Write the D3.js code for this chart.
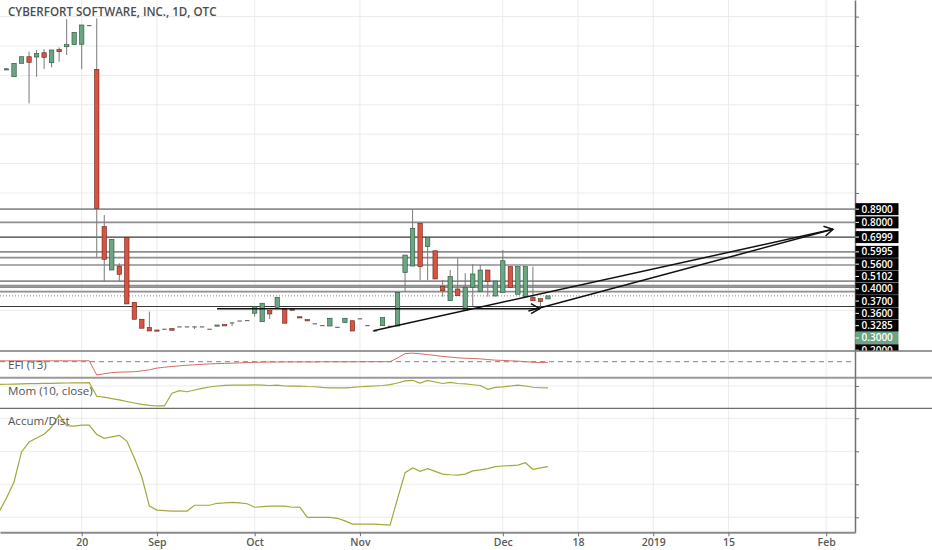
<!DOCTYPE html>
<html>
<head>
<meta charset="utf-8">
<script src="https://cdn.jsdelivr.net/npm/d3@7"></script>
<style>
  body { margin: 0; background: #fff; }
  svg { display: block; font-family: "Open Sans", sans-serif; }
</style>
</head>
<body>
<svg id="chart" width="932" height="550"></svg>
<script>
// bar index 0 .. 72, daily OTC bars
const candleOpen = [1.84,1.791,1.882,1.927,1.925,1.954,1.886,1.975,1.995,2.009,2.012,2.143,
  1.841,0.771,0.476,0.503,0.696,0.256,0.141,0.084,0.068,0.077,0.077,0.093,0.093,0.093,0.093,0.077,
  0.099,0.104,0.120,0.133,0.136,0.182,0.124,0.2,0.222,0.209,0.21,0.158,0.138,0.114,0.102,0.095,
  0.09,0.118,0.131,0.148,0.102,0.065,0.097,0.097,0.095,0.458,0.503,0.794,0.635,0.607,0.363,0.267,
  0.347,0.199,0.359,0.329,0.476,0.299,0.324,0.499,0.311,0.295,0.288,0.281,0.279];
const candleHigh = [1.85,1.882,1.927,1.961,1.973,1.978,1.973,1.991,2.182,2.093,2.143,2.143,
  2.188,0.850,0.685,0.522,0.696,0.256,0.141,0.193,0.068,0.077,0.077,0.093,0.093,0.093,0.093,0.077,
  0.102,0.104,0.120,0.133,0.136,0.227,0.25,0.2,0.29,0.209,0.21,0.158,0.138,0.114,0.102,0.148,
  0.09,0.148,0.131,0.148,0.102,0.065,0.152,0.097,0.324,0.578,0.889,0.794,0.699,0.607,0.408,0.476,
  0.556,0.454,0.515,0.51,0.476,0.401,0.612,0.499,0.499,0.499,0.499,0.281,0.30];
const candleLow = [1.84,1.791,1.882,1.61,1.791,1.844,1.855,1.893,1.939,2.009,1.844,2.143,
  0.562,0.397,0.476,0.397,0.245,0.141,0.080,0.061,0.066,0.077,0.066,0.093,0.093,0.075,0.093,0.077,
  0.099,0.101,0.095,0.133,0.136,0.159,0.124,0.143,0.222,0.114,0.207,0.155,0.135,0.114,0.102,0.095,
  0.09,0.118,0.061,0.148,0.102,0.065,0.097,0.097,0.095,0.329,0.503,0.408,0.408,0.415,0.295,0.267,
  0.301,0.199,0.231,0.329,0.295,0.299,0.324,0.358,0.311,0.295,0.267,0.216,0.279];
const candleClose = [1.845,1.882,1.927,1.889,1.948,1.923,1.973,1.961,2.009,2.093,2.143,2.143,
  0.896,0.549,0.685,0.447,0.245,0.141,0.080,0.061,0.066,0.077,0.066,0.093,0.093,0.093,0.093,0.077,
  0.102,0.101,0.120,0.133,0.136,0.227,0.25,0.177,0.29,0.114,0.207,0.155,0.135,0.114,0.102,0.148,
  0.09,0.148,0.061,0.148,0.102,0.065,0.152,0.097,0.324,0.578,0.760,0.499,0.699,0.415,0.335,0.431,
  0.301,0.359,0.449,0.476,0.397,0.401,0.539,0.358,0.499,0.499,0.267,0.261,0.30];

// indicators start one bar before the first visible candle (index -1)
const efiValues = [0.8,
  0.8,0.8,0.8,0.8,0.8,0.8,0.8,0.8,0.8,0.8,0.8,0.9,
  -12.5,-11.3,-10.2,-9.8,-9.6,-9.4,-8.6,-7.6,-6.0,-5.2,
  -4.5,-3.9,-3.3,-2.9,-2.5,-2.1,-1.8,-1.6,-1.4,-1.1,
  -0.8,-0.6,-0.4,-0.3,-0.3,-0.2,-0.2,-0.2,-0.2,-0.2,
  -0.1,-0.1,-0.1,-0.1,-0.1,-0.1,0,0,0,0,
  3.5,7.5,8.0,7.4,6.6,5.8,5.0,4.3,3.6,3.2,
  3.0,2.6,2.0,1.4,1.2,0.8,0.5,0.0,-0.5,-0.8,-0.6];
const momValues = [0.16,
  0.18,0.2,0.22,0.24,0.25,0.27,0.28,0.3,0.31,0.32,0.33,0.34,
  -1.06,-1.15,-1.31,-1.44,-1.6,-1.75,-1.89,-1.99,-2.06,-2.06,
  -0.75,-0.48,-0.59,-0.41,-0.24,-0.1,0,0.07,0.1,0.1,
  0.1,0.12,0.1,0.05,0.08,0,-0.02,0,-0.05,-0.08,
  -0.15,-0.2,-0.18,-0.2,-0.15,-0.08,-0.04,0,0.05,0.15,
  0.31,0.52,0.59,0.31,0.57,0.41,0.26,0.38,0.26,0.21,
  0.13,0.05,-0.34,-0.15,-0.1,0,0.1,0,-0.13,-0.18,-0.2];
const adValues = [0.32,
  1.17,2.14,3.96,4.56,4.81,5.03,5.47,6.2,5.56,5.53,5.59,5.59,
  5.02,4.79,4.87,4.97,4.62,3.59,2.44,0.68,0.44,0.41,
  0.38,0.38,0.38,0.73,0.73,0.73,0.85,0.87,0.91,0.87,
  0.82,0.61,0.65,0.68,0.68,0.68,0.61,0.62,0,0,
  0,-0.01,-0.06,-0.22,-0.41,-0.41,-0.41,-0.41,-0.44,-0.47,
  1.13,2.7,2.99,2.79,2.95,2.78,2.62,2.58,2.56,2.62,
  2.81,2.87,2.95,3.07,3.11,3.13,3.16,3.31,2.91,2.99,3.07];

// horizontal levels drawn on the chart
const levelPrices = [0.89, 0.80, 0.6999, 0.5995, 0.56, 0.5102, 0.40, 0.37, 0.36, 0.3285, 0.228];
const levelLabels = ["0.8900","0.8000","0.6999","0.5995","0.5600","0.5102","0.4000","0.3700","0.3600","0.3285","0.2000"];

// arrows: [bar1, price1, bar2, price2]
const arrowLines = [[28, 0.213, 70.9, 0.213], [48.8, 0.063, 109.9, 0.753], [69.4, 0.197, 109.9, 0.753]];

const xTickIdx = [10, 20, 33, 47, 66, 76, 86, 96, 109];
const xTickLabels = ["20", "Sep", "Oct", "Nov", "Dec", "18", "2019", "15", "Feb"];
const priceGrid = [0.2, 0.4, 0.6, 0.8, 1.0, 1.2, 1.4, 1.6, 1.8, 2.0, 2.2];
const momGrid = [0];
const adGrid = [0, 2, 4, 6];

const title = "CYBERFORT SOFTWARE, INC., 1D, OTC";

const svg = d3.select("#chart");
const W = 932, axisX = 855;
const pTop = 0, pBot = 351, efiBot = 377.7, momBot = 408.3, adBot = 532.3;

const x = d3.scaleLinear().domain([-0.864, 112.83]).range([0, axisX]);
const yPrice = d3.scaleLinear().domain([-0.075, 2.313]).range([pBot, pTop]);
const yEfi = d3.scaleLinear().domain([-15, 10]).range([efiBot, pBot]);
const yMom = d3.scaleLinear().domain([-2.3, 0.856]).range([momBot, efiBot]);
const yAd = d3.scaleLinear().domain([-0.909, 6.606]).range([adBot, momBot]);

const defs = svg.append("defs");
defs.append("clipPath").attr("id", "clip-price")
    .append("rect").attr("x", 0).attr("y", 0).attr("width", axisX).attr("height", pBot);
defs.append("clipPath").attr("id", "clip-all")
    .append("rect").attr("x", 0).attr("y", 0).attr("width", axisX).attr("height", adBot);

// grid
const grid = svg.append("g").attr("stroke", "#ebebeb").attr("stroke-width", 1);
grid.selectAll("line.v").data(xTickIdx).enter().append("line")
    .attr("x1", d => x(d)).attr("x2", d => x(d)).attr("y1", 0).attr("y2", adBot);
grid.selectAll("line.hp").data(priceGrid).enter().append("line")
    .attr("x1", 0).attr("x2", axisX).attr("y1", d => yPrice(d)).attr("y2", d => yPrice(d));
grid.selectAll("line.hm").data(momGrid).enter().append("line")
    .attr("x1", 0).attr("x2", axisX).attr("y1", d => yMom(d)).attr("y2", d => yMom(d));
grid.selectAll("line.ha").data(adGrid).enter().append("line")
    .attr("x1", 0).attr("x2", axisX).attr("y1", d => yAd(d)).attr("y2", d => yAd(d));

// price panel
const price = svg.append("g").attr("clip-path", "url(#clip-price)");
const darkLevels = new Set([0.6999, 0.228]);
price.selectAll("line.level").data(levelPrices).enter().append("line")
    .attr("x1", 0).attr("x2", axisX)
    .attr("y1", d => yPrice(d)).attr("y2", d => yPrice(d))
    .attr("stroke", d => darkLevels.has(d) ? "#3a3a3a" : "#8e8e8e")
    .attr("stroke-width", d => darkLevels.has(d) ? 1.1 : 1.7);

const lastClose = candleClose[candleClose.length - 1];
price.append("line")
    .attr("x1", 0).attr("x2", axisX)
    .attr("y1", yPrice(lastClose)).attr("y2", yPrice(lastClose))
    .attr("stroke", "#888").attr("stroke-width", 1).attr("stroke-dasharray", "1,2");

const candles = candleOpen.map((o, i) => ({
    i, o, h: candleHigh[i], l: candleLow[i], c: candleClose[i]
}));
const bodyW = 4.4;
price.selectAll("line.wick").data(candles.filter(d => d.h > d.l)).enter().append("line")
    .attr("x1", d => x(d.i)).attr("x2", d => x(d.i))
    .attr("y1", d => yPrice(d.h)).attr("y2", d => yPrice(d.l))
    .attr("stroke", "#7a7a7c").attr("stroke-width", 1);
price.selectAll("rect.body").data(candles).enter().append("rect")
    .attr("x", d => x(d.i) - bodyW / 2)
    .attr("width", bodyW)
    .attr("y", d => yPrice(Math.max(d.o, d.c)))
    .attr("height", d => Math.max(1.2, Math.abs(yPrice(d.o) - yPrice(d.c))))
    .attr("fill", d => d.c > d.o ? "#6ba583" : d.c < d.o ? "#d75442" : "#6d6d6d")
    .attr("stroke", d => d.c > d.o ? "#225437" : d.c < d.o ? "#6b2118" : "none")
    .attr("stroke-width", 0.6);

// arrows
const arrows = price.append("g").attr("stroke", "#111").attr("stroke-width", 1.5).attr("fill", "none");
arrowLines.forEach((a, k) => {
    const x1 = x(a[0]), y1 = yPrice(a[1]), x2 = x(a[2]), y2 = yPrice(a[3]);
    arrows.append("line").attr("x1", x1).attr("y1", y1).attr("x2", x2).attr("y2", y2);
    if (k < 2) {
        const ang = Math.atan2(y2 - y1, x2 - x1), len = 10, spread = Math.PI / 6;
        const b1 = [x2 - len * Math.cos(ang - spread), y2 - len * Math.sin(ang - spread)];
        const b2 = [x2 - len * Math.cos(ang + spread), y2 - len * Math.sin(ang + spread)];
        arrows.append("path").attr("d", `M${b1}L${x2},${y2}L${b2}`);
    }
});

// indicator panels
const efiLine = d3.line().x((d, i) => x(i - 1)).y(d => yEfi(d));
const momLine = d3.line().x((d, i) => x(i - 1)).y(d => yMom(d));
const adLine = d3.line().x((d, i) => x(i - 1)).y(d => yAd(d));
const ind = svg.append("g").attr("clip-path", "url(#clip-all)").attr("fill", "none");
ind.append("line")
    .attr("x1", 0).attr("x2", axisX).attr("y1", yEfi(0)).attr("y2", yEfi(0))
    .attr("stroke", "#9a9a9a").attr("stroke-width", 1.2).attr("stroke-dasharray", "5,4");
ind.append("path").attr("d", efiLine(efiValues)).attr("stroke", "#cf6e66").attr("stroke-width", 1);
ind.append("path").attr("d", momLine(momValues)).attr("stroke", "#a3a83c").attr("stroke-width", 1.2);
ind.append("path").attr("d", adLine(adValues)).attr("stroke", "#a3a83c").attr("stroke-width", 1.2);

// panel separators
const seps = [[pBot, "#9a9a9a", 2, W], [efiBot, "#9a9a9a", 2, W], [momBot, "#6e6e6e", 1.2, W]];
svg.selectAll("line.sep").data(seps).enter().append("line")
    .attr("x1", 0).attr("x2", d => d[3]).attr("y1", d => d[0]).attr("y2", d => d[0])
    .attr("stroke", d => d[1]).attr("stroke-width", d => d[2]);

// axes
function styleAxis(g) {
    g.select(".domain").attr("stroke", "#707070").attr("stroke-width", 1.5);
    g.selectAll(".tick line").attr("stroke", "#707070");
}
svg.append("g").attr("transform", `translate(${axisX},0)`)
    .call(d3.axisRight(yPrice).tickValues(priceGrid).tickFormat("").tickSize(4).tickSizeOuter(0)).call(styleAxis);
svg.append("g").attr("transform", `translate(${axisX},0)`)
    .call(d3.axisRight(yEfi).tickValues([]).tickSizeOuter(0)).call(styleAxis);
svg.append("g").attr("transform", `translate(${axisX},0)`)
    .call(d3.axisRight(yMom).tickValues(momGrid).tickFormat("").tickSize(4).tickSizeOuter(0)).call(styleAxis);
svg.append("g").attr("transform", `translate(${axisX},0)`)
    .call(d3.axisRight(yAd).tickValues(adGrid).tickFormat("").tickSize(4).tickSizeOuter(0)).call(styleAxis);

const xAxis = svg.append("g").attr("transform", `translate(0,${adBot})`)
    .call(d3.axisBottom(x).tickValues(xTickIdx).tickFormat((d, i) => xTickLabels[i])
        .tickSize(4).tickSizeOuter(0).tickPadding(2));
xAxis.select(".domain").attr("stroke", "#8a8a8a").attr("stroke-width", 2);
xAxis.selectAll(".tick line").attr("stroke", "#707070");
xAxis.selectAll(".tick text")
    .attr("fill", "#5a5a5a").attr("font-size", 10.5).attr("font-weight", 600)
    .attr("font-family", "'Open Sans', sans-serif");

// price labels on the right axis (stacked so they do not overlap)
const labels = levelPrices.map((p, k) => ({ p, text: levelLabels[k], current: false }));
labels.push({ p: lastClose, text: d3.format(".4f")(lastClose), current: true });
labels.sort((a, b) => b.p - a.p);
const labelStep = 12.3;
let prevY = -Infinity;
labels.forEach(d => { d.y = Math.max(yPrice(d.p), prevY + labelStep); prevY = d.y; });
defs.append("clipPath").attr("id", "clip-labels")
    .append("rect").attr("x", axisX).attr("y", 0).attr("width", 80).attr("height", pBot - 0.5);
const labG = svg.append("g").attr("clip-path", "url(#clip-labels)")
    .selectAll("g").data(labels).enter().append("g")
    .attr("transform", d => `translate(${axisX},${d.y})`);
labG.append("rect").attr("x", 0.5).attr("y", -6).attr("width", 43).attr("height", 12)
    .attr("fill", d => d.current ? "#6ba583" : "#000");
labG.append("line").attr("x1", 0.5).attr("x2", 4).attr("y1", 0).attr("y2", 0)
    .attr("stroke", "#fff").attr("stroke-width", 1);
labG.append("text").attr("x", 6.5).attr("y", 0).attr("dy", "0.35em")
    .attr("fill", "#fff").attr("font-size", 10).attr("font-weight", 600)
    .text(d => d.text);

// titles
svg.append("text").attr("x", 8).attr("y", 16)
    .attr("fill", "#4d4d4d").attr("font-size", 11.6).attr("font-weight", 600)
    .text(title);
const indLabels = [["EFI (13)", yEfi(0) + 3.5], ["Mom (10, close)", 391], ["Accum/Dist", 421]];
svg.selectAll("text.ind").data(indLabels).enter().append("text")
    .attr("x", 8).attr("y", d => d[1]).attr("dy", "0.35em")
    .attr("fill", "#555").attr("font-size", 11.6)
    .text(d => d[0]);
</script>
</body>
</html>
